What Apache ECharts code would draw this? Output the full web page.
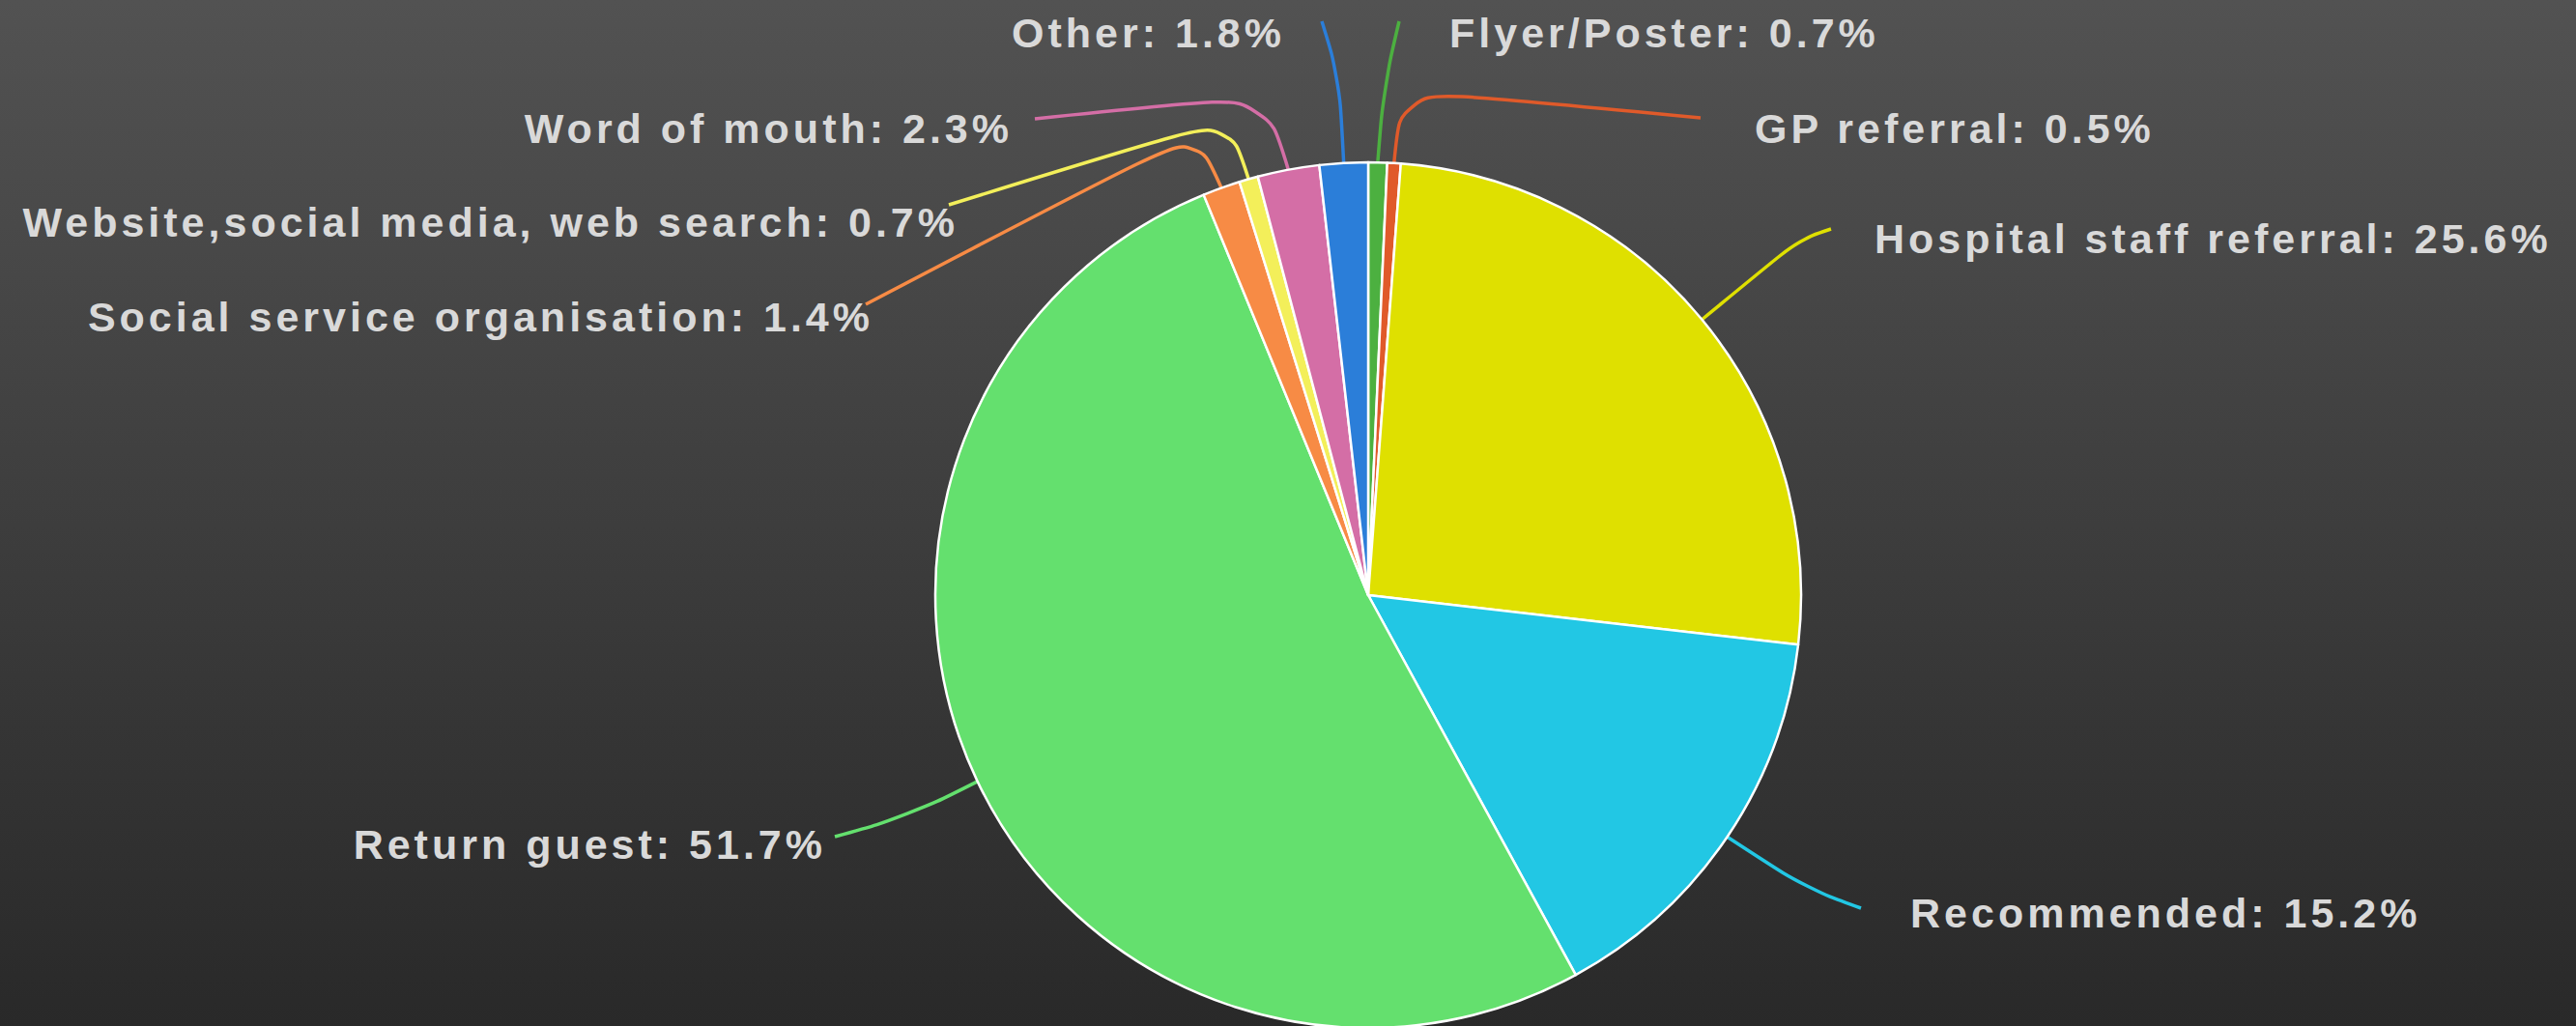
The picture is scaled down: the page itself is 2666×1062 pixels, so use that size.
<!DOCTYPE html>
<html>
<head>
    <meta charset="UTF-8">
    <title>How guests heard about us</title>
    <script src="https://cdn.jsdelivr.net/npm/echarts@6/dist/echarts.min.js"></script>
    <style>
        html, body { margin: 0; padding: 0; }
        /* gradient backdrop + the loose letter spacing of the original labels */
        #main { width: 2666px; height: 1062px; background: linear-gradient(#525252, #292929); letter-spacing: 4px; }
    </style>
</head>
<body>
<div id="main"></div>
<script type="text/javascript">
    // slices, clockwise from 12 o'clock
    var sources = ['Flyer/Poster', 'GP referral', 'Hospital staff referral', 'Recommended', 'Return guest',
        'Social service organisation', 'Website,social media, web search', 'Word of mouth', 'Other'];
    var shares = [0.7, 0.5, 25.6, 15.2, 51.7, 1.4, 0.7, 2.3, 1.8];
    var colors = ['#4cb040', '#e05a2a', '#dfe000', '#22c7e4', '#64e06e', '#f78b45', '#f3ef5a', '#d46ea6', '#2b7ed9'];

    // where each label sits, the bend of its leader line and where the line stops (px)
    var labelSpots = [
        {x: 1500, y: 34, align: 'left', bend: [1432, 90], end: [1448, 22]},
        {x: 1816, y: 133, align: 'left', bend: [1450, 92], end: [1760, 122]},
        {x: 1940, y: 247, align: 'left', bend: [1862, 248], end: [1895, 237]},
        {x: 1977, y: 945, align: 'left', bend: [1870, 920], end: [1926, 940]},
        {x: 855, y: 874, align: 'right', bend: [940, 845], end: [864, 866]},
        {x: 904, y: 328, align: 'right', bend: [1238, 136], end: [896, 315]},
        {x: 992, y: 230, align: 'right', bend: [1272, 122], end: [982, 212]},
        {x: 1048, y: 133, align: 'right', bend: [1310, 98], end: [1071, 123]},
        {x: 1330, y: 34, align: 'right', bend: [1386, 80], end: [1368, 22]}
    ];

    var myChart = echarts.init(document.getElementById('main'), null, {renderer: 'svg'});

    var pieData = sources.map(function (name, i) {
        return {
            name: name,
            value: shares[i],
            itemStyle: {color: colors[i]},
            labelLine: {lineStyle: {color: colors[i]}}
        };
    });

    var option = {
        backgroundColor: 'transparent',
        animation: false,
        series: [{
            type: 'pie',
            center: [1416, 616],
            radius: 448,
            startAngle: 90,
            clockwise: true,
            avoidLabelOverlap: false,
            itemStyle: {borderColor: '#ffffff', borderWidth: 2.5},
            label: {
                show: true,
                position: 'outside',
                formatter: '{b}: {c}%',
                color: '#d9d9d9',
                fontFamily: 'Liberation Sans, Arial, sans-serif',
                fontWeight: 'bold',
                fontSize: 43
            },
            labelLine: {
                show: true,
                length: 20,
                length2: 20,
                smooth: 0.4,
                minTurnAngle: 0,
                maxSurfaceAngle: 180,
                lineStyle: {width: 3.5}
            },
            labelLayout: function (params) {
                var spot = labelSpots[params.dataIndex];
                var start = params.labelLinePoints[0];
                return {
                    x: spot.x,
                    y: spot.y,
                    align: spot.align,
                    verticalAlign: 'middle',
                    labelLinePoints: [start, spot.bend, spot.end]
                };
            },
            data: pieData
        }]
    };

    myChart.setOption(option);
</script>
</body>
</html>
